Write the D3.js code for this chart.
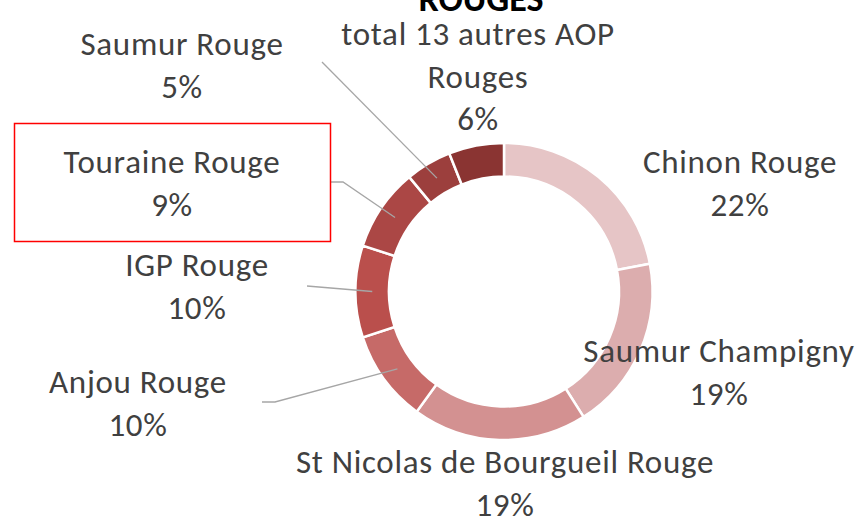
<!DOCTYPE html>
<html>
<head>
<meta charset="utf-8">
<script src="https://cdn.jsdelivr.net/npm/d3@7"></script>
<style>
  body { margin: 0; background: #fff; }
  svg { display: block; }
  text { font-family: Carlito, "Liberation Sans Narrow", "Open Sans", sans-serif; fill: #404040; }
</style>
</head>
<body>
<script>
// data, clockwise from 12 o'clock
const names = ["Chinon Rouge", "Saumur Champigny", "St Nicolas de Bourgueil Rouge", "Anjou Rouge",
    "IGP Rouge", "Touraine Rouge", "Saumur Rouge", "total 13 autres AOP Rouges"]
const shares = [22, 19, 19, 10, 10, 9, 5, 6]
const colors = ["#E6C5C6", "#DCADAE", "#D39191", "#C66A68", "#BA4F4C", "#AB4745", "#9C3F3D", "#8A3432"]

// label layout (manual placement like the original)
const labelLayout = {
    "Chinon Rouge": { x: 740, y: 173, lines: ["Chinon Rouge"] },
    "Saumur Champigny": { x: 719, y: 362, lines: ["Saumur Champigny"] },
    "St Nicolas de Bourgueil Rouge": { x: 505, y: 473, lines: ["St Nicolas de Bourgueil Rouge"] },
    "Anjou Rouge": { x: 138, y: 393, lines: ["Anjou Rouge"], leader: [[262, 402], [275, 402]] },
    "IGP Rouge": { x: 197, y: 276, lines: ["IGP Rouge"], leader: [[307, 286]] },
    "Touraine Rouge": { x: 172, y: 173, lines: ["Touraine Rouge"], leader: [[330, 182], [343, 182]], box: true },
    "Saumur Rouge": { x: 182, y: 55, lines: ["Saumur Rouge"], leader: [[322, 62]] },
    "total 13 autres AOP Rouges": { x: 478, y: 45, lines: ["total 13 autres AOP", "Rouges"] }
}

const width = 858, height = 517
const cx = 504, cy = 291.5
const outerR = 148.5, innerR = 115
const lineH = 42.5

const svg = d3.select("body").append("svg")
    .attr("width", width)
    .attr("height", height)

//TITLE (cut off at the top in the original)
svg.append("text")
    .attr("x", 481)
    .attr("y", 11)
    .attr("text-anchor", "middle")
    .style("font-size", "36px")
    .style("font-weight", "bold")
    .style("fill", "#000")
    .text("ROUGES")

const pie = d3.pie().sort(null).value(d => d.value)
const arc = d3.arc().innerRadius(innerR).outerRadius(outerR)
const midArc = d3.arc().innerRadius((innerR + outerR) / 2).outerRadius((innerR + outerR) / 2)

const slices = pie(names.map((n, i) => ({ name: n, value: shares[i], color: colors[i] })))

const g = svg.append("g").attr("transform", `translate(${cx},${cy})`)

//DRAW DONUT
g.selectAll("path")
    .data(slices)
    .join("path")
    .attr("d", arc)
    .attr("fill", d => d.data.color)
    .attr("stroke", "#fff")
    .attr("stroke-width", 2.5)

//LEADER LINES
const leaderLine = d3.line()
slices.forEach(d => {
    const lay = labelLayout[d.data.name]
    if (!lay.leader) return
    const c = midArc.centroid(d)
    const pts = lay.leader.concat([[cx + c[0], cy + c[1]]])
    svg.append("path")
        .attr("d", leaderLine(pts))
        .attr("fill", "none")
        .attr("stroke", "#A6A6A6")
        .attr("stroke-width", 1.3)
})

//LABELS
slices.forEach(d => {
    const lay = labelLayout[d.data.name]
    const lines = lay.lines.concat([d.data.value + "%"])
    const t = svg.append("text")
        .attr("text-anchor", "middle")
        .style("font-size", "33px")
        .style("letter-spacing", "0.7px")
    lines.forEach((l, i) => {
        t.append("tspan")
            .attr("x", lay.x)
            .attr("y", lay.y + i * lineH)
            .text(l)
    })
    if (lay.box) {
        svg.append("rect")
            .attr("x", 14.5)
            .attr("y", 123.5)
            .attr("width", 316)
            .attr("height", 118)
            .attr("fill", "none")
            .attr("stroke", "#FF0000")
            .attr("stroke-width", 1.5)
    }
})
</script>
</body>
</html>
